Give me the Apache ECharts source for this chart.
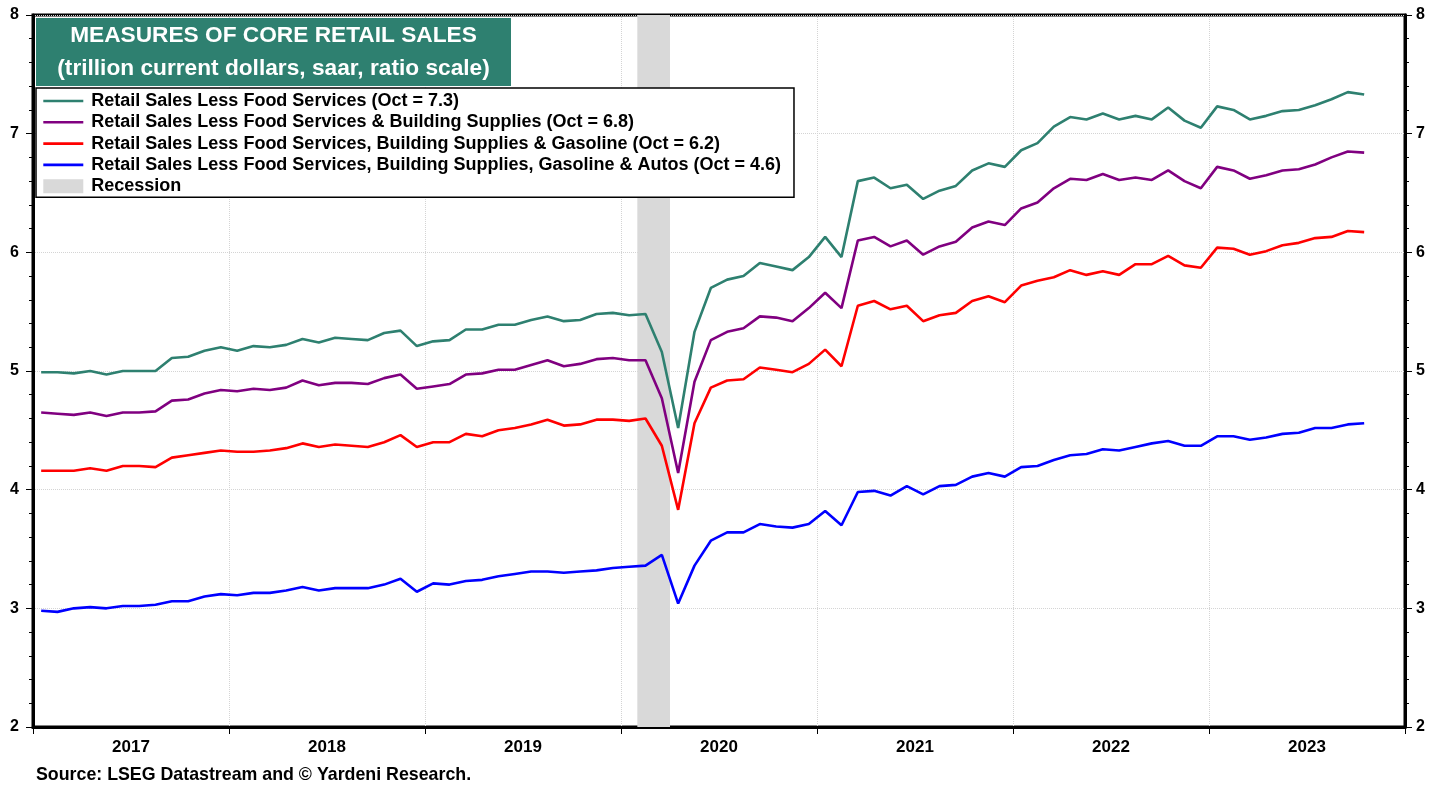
<!DOCTYPE html>
<html>
<head>
<meta charset="utf-8">
<script src="https://cdn.jsdelivr.net/npm/echarts@6/dist/echarts.min.js"></script>
<style>
html,body{margin:0;padding:0;background:#fff;}
#chart{width:1445px;height:787px;}
</style>
</head>
<body>
<div id="chart"></div>
<script>
// Monthly observations, Jan 2017 .. Oct 2023 (trillion dollars, saar)
const startYear = 2017;
const years = ['2017','2018','2019','2020','2021','2022','2023'];
const yTicks = [2,3,4,5,6,7,8];

const lessFood = [4.99,4.99,4.98,5.00,4.97,5.00,5.00,5.00,5.11,5.12,5.17,5.20,
5.17,5.21,5.20,5.22,5.27,5.24,5.28,5.27,5.26,5.32,5.34,5.21,
5.25,5.26,5.35,5.35,5.39,5.39,5.43,5.46,5.42,5.43,5.48,5.49,
5.47,5.48,5.16,4.52,5.33,5.70,5.77,5.80,5.91,5.88,5.85,5.96,
6.13,5.96,6.60,6.63,6.54,6.57,6.45,6.52,6.56,6.69,6.75,6.72,
6.86,6.92,7.06,7.14,7.12,7.17,7.12,7.15,7.12,7.22,7.11,7.05,
7.23,7.20,7.12,7.15,7.19,7.20,7.24,7.29,7.35,7.33];

const lessFoodBuilding = [4.65,4.64,4.63,4.65,4.62,4.65,4.65,4.66,4.75,4.76,4.81,4.84,
4.83,4.85,4.84,4.86,4.92,4.88,4.90,4.90,4.89,4.94,4.97,4.85,
4.87,4.89,4.97,4.98,5.01,5.01,5.05,5.09,5.04,5.06,5.10,5.11,
5.09,5.09,4.77,4.14,4.91,5.26,5.33,5.36,5.46,5.45,5.42,5.53,
5.66,5.53,6.10,6.13,6.05,6.10,5.98,6.05,6.09,6.21,6.26,6.23,
6.37,6.42,6.54,6.62,6.61,6.66,6.61,6.63,6.61,6.69,6.60,6.54,
6.72,6.69,6.62,6.65,6.69,6.70,6.74,6.80,6.85,6.84];

const lessFoodBuildingGas = [4.16,4.16,4.16,4.18,4.16,4.20,4.20,4.19,4.27,4.29,4.31,4.33,
4.32,4.32,4.33,4.35,4.39,4.36,4.38,4.37,4.36,4.40,4.46,4.36,
4.40,4.40,4.47,4.45,4.50,4.52,4.55,4.59,4.54,4.55,4.59,4.59,
4.58,4.60,4.37,3.83,4.56,4.86,4.92,4.93,5.03,5.01,4.99,5.06,
5.18,5.04,5.55,5.59,5.52,5.55,5.42,5.47,5.49,5.59,5.63,5.58,
5.72,5.76,5.79,5.85,5.81,5.84,5.81,5.90,5.90,5.97,5.89,5.87,
6.04,6.03,5.98,6.01,6.06,6.08,6.12,6.13,6.18,6.17];

const lessFoodBuildingGasAutos = [2.98,2.97,3.00,3.01,3.00,3.02,3.02,3.03,3.06,3.06,3.10,3.12,
3.11,3.13,3.13,3.15,3.18,3.15,3.17,3.17,3.17,3.20,3.25,3.14,
3.21,3.20,3.23,3.24,3.27,3.29,3.31,3.31,3.30,3.31,3.32,3.34,
3.35,3.36,3.45,3.04,3.36,3.57,3.64,3.64,3.71,3.69,3.68,3.71,
3.82,3.70,3.98,3.99,3.95,4.03,3.96,4.03,4.04,4.11,4.14,4.11,
4.19,4.20,4.25,4.29,4.30,4.34,4.33,4.36,4.39,4.41,4.37,4.37,
4.45,4.45,4.42,4.44,4.47,4.48,4.52,4.52,4.55,4.56];

// Recession months (start inclusive, end exclusive) as [year, month]
const recessionStart = [2020, 2];
const recessionEnd = [2020, 4];

const names = [
  'Retail Sales Less Food Services (Oct = 7.3)',
  'Retail Sales Less Food Services & Building Supplies (Oct = 6.8)',
  'Retail Sales Less Food Services, Building Supplies & Gasoline (Oct = 6.2)',
  'Retail Sales Less Food Services, Building Supplies, Gasoline & Autos (Oct = 4.6)'
];
const colors = ['#2E8070', '#800080', '#FF0000', '#0000FF'];
const seriesValues = [lessFood, lessFoodBuilding, lessFoodBuildingGas, lessFoodBuildingGasAutos];

const monthIndex = (ym) => (ym[0] - startYear) * 12 + (ym[1] - 1);
const toPoints = (arr) => arr.map((v, i) => [i + 0.5, v]);

const FONT = 'Liberation Sans, Arial, sans-serif';
const chart = echarts.init(document.getElementById('chart'), null, {renderer: 'canvas'});

const series = seriesValues.map((vals, k) => ({
  name: names[k],
  type: 'line',
  data: toPoints(vals),
  symbol: 'none',
  xAxisIndex: 0,
  yAxisIndex: 0,
  z: 5 - k,
  lineStyle: {color: colors[k], width: 2.6},
  itemStyle: {color: colors[k]}
}));

series.push({
  name: 'Recession',
  type: 'line',
  data: [],
  symbol: 'none',
  xAxisIndex: 0,
  yAxisIndex: 0,
  itemStyle: {color: '#d9d9d9'},
  lineStyle: {width: 0, color: '#d9d9d9'},
  markArea: {
    silent: true,
    itemStyle: {color: '#d9d9d9'},
    data: [[{xAxis: monthIndex(recessionStart)}, {xAxis: monthIndex(recessionEnd)}]]
  },
  z: 1
});

const yAxisCommon = {
  type: 'value',
  min: yTicks[0],
  max: yTicks[yTicks.length - 1],
  interval: 1,
  axisLine: {show: true, lineStyle: {color: '#000', width: 3}},
  axisTick: {show: true, inside: false, length: 7, lineStyle: {color: '#000', width: 1}},
  minorTick: {show: true, splitNumber: 5, length: 4, lineStyle: {color: '#000', width: 1}},
  axisLabel: {color: '#000', fontFamily: FONT, fontWeight: 'bold', fontSize: 16},
};

chart.setOption({
  backgroundColor: '#fff',
  animation: false,
  title: {
    text: '{t|MEASURES OF CORE RETAIL SALES}\n{t|(trillion current dollars, saar, ratio scale)}',
    left: 36,
    top: 18,
    padding: [1, 10, 1, 10],
    backgroundColor: '#2E8070',
    textStyle: {
      rich: {
        t: {width: 455, height: 33, align: 'center', verticalAlign: 'middle', color: '#fff', fontFamily: FONT, fontWeight: 'bold', fontSize: 22.7, lineHeight: 33}
      }
    }
  },
  legend: {
    orient: 'vertical',
    left: 36,
    top: 88,
    padding: [4, 13, 2, 6],
    itemGap: 3.3,
    itemWidth: 40,
    itemHeight: 14,
    backgroundColor: '#fff',
    borderColor: '#000',
    borderWidth: 1.5,
    borderRadius: 0,
    lineStyle: {width: 2.6},
    textStyle: {color: '#000', fontFamily: FONT, fontWeight: 'bold', fontSize: 18, padding: [0, 0, 0, 3]},
    data: names.map(n => ({name: n, itemStyle: {opacity: 0}})).concat([{name: 'Recession', icon: 'rect', itemStyle: {color: '#d9d9d9'}}]),
    selectedMode: false
  },
  grid: {
    left: 33, right: 40, top: 15, bottom: 60,
    show: true, borderColor: '#000', borderWidth: 3, backgroundColor: 'transparent'
  },
  xAxis: [{
    type: 'value',
    min: 0,
    max: years.length * 12,
    interval: 12,
    axisLine: {show: true, lineStyle: {color: '#000', width: 3}},
    axisTick: {show: true, length: 7, lineStyle: {color: '#000', width: 1}},
    axisLabel: {show: false},
    splitLine: {show: true, lineStyle: {color: '#d4d4d4', type: 'dotted', width: 1}}
  }, {
    type: 'category',
    data: years,
    position: 'bottom',
    boundaryGap: true,
    axisLine: {show: false},
    axisTick: {show: false},
    splitLine: {show: false},
    axisLabel: {color: '#000', fontFamily: FONT, fontWeight: 'bold', fontSize: 17, margin: 12}
  }],
  yAxis: [Object.assign({}, yAxisCommon, {
    position: 'left',
    axisLabel: Object.assign({}, yAxisCommon.axisLabel, {margin: 14}),
    splitLine: {show: true, lineStyle: {color: '#d4d4d4', type: 'dotted', width: 1}}
  }), Object.assign({}, yAxisCommon, {
    position: 'right',
    axisLabel: Object.assign({}, yAxisCommon.axisLabel, {margin: 11}),
    splitLine: {show: false}
  })],
  graphic: [{
    type: 'text',
    left: 36,
    top: 766,
    style: {text: 'Source: LSEG Datastream and © Yardeni Research.', fill: '#000', font: 'bold 17.8px ' + FONT}
  }],
  series: series
});
</script>
</body>
</html>
